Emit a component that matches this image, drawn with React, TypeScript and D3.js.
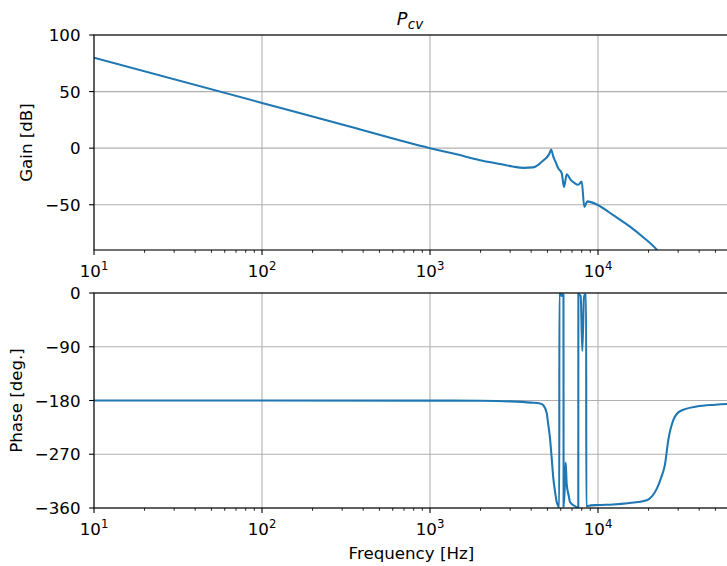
import React from "react";
import * as d3 from "d3";

// Bode plot of P_cv: frequency response magnitude and phase
const GAIN_FREQ = [10, 100, 300, 1000, 1400, 1985, 2600, 3100, 3600, 4100, 4517, 4800, 4970, 5150, 5260, 5420, 5623, 5780, 6080, 6277, 6512, 6878, 7200, 7632, 8000, 8289, 8636, 9904, 12400, 15503, 18500, 22140, 24500];
const GAIN_DB = [80, 40, 20.9, 0, -5, -10.6, -14, -16.2, -17.4, -17, -13.5, -10, -8, -4.5, -1.2, -7.5, -13, -17.4, -22, -34.4, -23, -28, -30.5, -32.4, -29.5, -52, -47, -50, -59.5, -69.4, -78.5, -89, -97];

const PHASE_FREQ = [10, 1000, 2000, 3000, 4000, 4517, 4725, 4950, 5061, 5178, 5302, 5420, 5546, 5679, 5780, 5880, 5890, 5950, 6020, 6080, 6140, 6230, 6240, 6330, 6423, 6512, 6700, 6812, 7300, 7632, 7640, 7750, 7889, 8064, 8250, 8333, 8500, 8519, 8700, 10000, 12285, 15000, 19500, 21000, 22360, 23700, 25050, 26220, 28070, 30770, 38690, 50000, 62000];
const PHASE_DEG = [-180, -180.2, -180.5, -181.5, -183.5, -185, -188, -201, -221, -243, -277, -310, -332, -350, -356, -359, -1, -4, -1.5, -5, -2, -3, -358, -330, -284, -320, -340, -350, -357, -359.5, -1, -3, -5, -97, -8, -3, -2, -357, -356.5, -355, -354, -352, -347, -340, -328, -310, -287, -246, -213, -198, -190, -187, -185.5];

const X_DOMAIN = [10, 60000];
const GAIN_DOMAIN = [-90, 100];
const PHASE_DOMAIN = [-360, 0];
const GAIN_TICKS = [-50, 0, 50, 100];
const PHASE_TICKS = [-360, -270, -180, -90, 0];
const DECADES = [1, 2, 3, 4];

const W = 727;
const H = 566;
const LEFT = 94;
const RIGHT = LEFT + 168 * Math.log10(X_DOMAIN[1] / X_DOMAIN[0]);
const GAIN_BOX = { top: 35, bottom: 250 };
const PHASE_BOX = { top: 293, bottom: 508 };

const FONT = "'DejaVu Sans', sans-serif";
const LINE = "#1f77b4";
const GRID = "#b0b0b0";
const FS = 16.67;

const x = d3.scaleLog().domain(X_DOMAIN).range([LEFT, RIGHT]);

const majorX = DECADES.map((e) => Math.pow(10, e));
const minorX: number[] = [];
for (const e of DECADES) {
  for (let m = 2; m <= 9; m++) {
    const v = m * Math.pow(10, e);
    if (v <= X_DOMAIN[1]) minorX.push(v);
  }
}

type Pt = { f: number; v: number };

function Panel({
  id,
  box,
  domain,
  ticks,
  freqs,
  values,
}: {
  id: string;
  box: { top: number; bottom: number };
  domain: number[];
  ticks: number[];
  freqs: number[];
  values: number[];
}) {
  const y = d3.scaleLinear().domain(domain).range([box.bottom, box.top]);
  const pts: Pt[] = freqs.map((f, i) => ({ f, v: values[i] }));
  const path = d3
    .line<Pt>()
    .x((d) => x(d.f))
    .y((d) => y(d.v))
    .curve(d3.curveMonotoneX)(pts) as string;
  const fmt = (v: number) => (v < 0 ? "\u2212" + Math.abs(v) : String(v));
  return (
    <g>
      <defs>
        <clipPath id={id}>
          <rect x={LEFT} y={box.top} width={RIGHT - LEFT} height={box.bottom - box.top} />
        </clipPath>
      </defs>
      {/* grid */}
      {majorX.map((v) => (
        <line key={"gx" + v} x1={x(v)} x2={x(v)} y1={box.top} y2={box.bottom} stroke={GRID} strokeWidth={1.1} />
      ))}
      {ticks.map((t) => (
        <line key={"gy" + t} x1={LEFT} x2={RIGHT} y1={y(t)} y2={y(t)} stroke={GRID} strokeWidth={1.1} />
      ))}
      {/* response curve */}
      <path d={path} fill="none" stroke={LINE} strokeWidth={2.08} strokeLinejoin="round" clipPath={`url(#${id})`} />
      {/* spines */}
      <rect x={LEFT} y={box.top} width={RIGHT - LEFT} height={box.bottom - box.top} fill="none" stroke="#000" strokeWidth={1.1} />
      {/* x ticks */}
      {majorX.map((v) => (
        <line key={"tx" + v} x1={x(v)} x2={x(v)} y1={box.bottom} y2={box.bottom + 4.9} stroke="#000" strokeWidth={1.1} />
      ))}
      {minorX.map((v) => (
        <line key={"mx" + v} x1={x(v)} x2={x(v)} y1={box.bottom} y2={box.bottom + 2.8} stroke="#000" strokeWidth={0.85} />
      ))}
      {DECADES.map((e) => (
        <text key={"lx" + e} x={x(Math.pow(10, e))} y={box.bottom + 27} textAnchor="middle" fontFamily={FONT} fontSize={FS}>
          10
          <tspan fontSize={11.7} dy={-7}>
            {e}
          </tspan>
        </text>
      ))}
      {/* y ticks */}
      {ticks.map((t) => (
        <g key={"ty" + t}>
          <line x1={LEFT - 4.9} x2={LEFT} y1={y(t)} y2={y(t)} stroke="#000" strokeWidth={1.1} />
          <text x={LEFT - 13.5} y={y(t) + 6} textAnchor="end" fontFamily={FONT} fontSize={FS}>
            {fmt(t)}
          </text>
        </g>
      ))}
    </g>
  );
}

export default function App() {
  return (
    <svg
      width={W}
      height={H}
      viewBox={`0 0 ${W} ${H}`}
      style={{ position: "absolute", left: 0, top: 0, background: "#fff" }}
    >
      <rect x={0} y={0} width={W} height={H} fill="#fff" />
      <text x={410} y={25} textAnchor="middle" fontFamily={FONT} fontSize={FS + 1} fontStyle="italic">
        P
        <tspan fontSize={13.5} dy={3.5} dx={0.5}>
          cv
        </tspan>
      </text>
      <Panel id="clip-gain" box={GAIN_BOX} domain={GAIN_DOMAIN} ticks={GAIN_TICKS} freqs={GAIN_FREQ} values={GAIN_DB} />
      <Panel id="clip-phase" box={PHASE_BOX} domain={PHASE_DOMAIN} ticks={PHASE_TICKS} freqs={PHASE_FREQ} values={PHASE_DEG} />
      <text transform={`translate(32, ${(GAIN_BOX.top + GAIN_BOX.bottom) / 2}) rotate(-90)`} textAnchor="middle" fontFamily={FONT} fontSize={FS}>
        Gain [dB]
      </text>
      <text transform={`translate(21.5, ${(PHASE_BOX.top + PHASE_BOX.bottom) / 2}) rotate(-90)`} textAnchor="middle" fontFamily={FONT} fontSize={FS}>
        Phase [deg.]
      </text>
      <text x={(LEFT + RIGHT) / 2} y={559} textAnchor="middle" fontFamily={FONT} fontSize={FS}>
        Frequency [Hz]
      </text>
    </svg>
  );
}
